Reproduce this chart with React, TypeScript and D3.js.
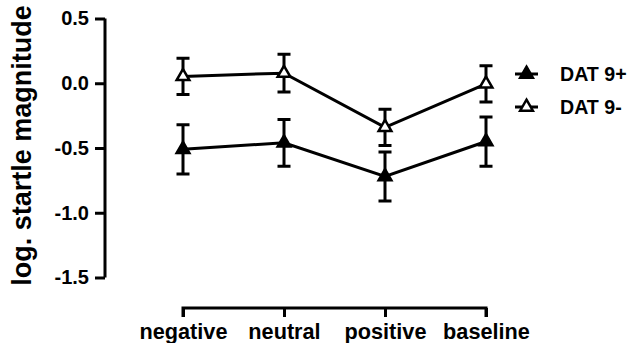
import * as React from 'react';
import * as d3 from 'd3';

const categories = ['negative', 'neutral', 'positive', 'baseline'];
const datPlus = [-0.51, -0.46, -0.72, -0.45];
const datPlusErr = [0.19, 0.18, 0.19, 0.19];
const datMinus = [0.053, 0.078, -0.34, -0.005];
const datMinusErr = [0.14, 0.145, 0.14, 0.14];
const yTicks = [0.5, 0.0, -0.5, -1.0, -1.5];
const seriesNames = ['DAT 9+', 'DAT 9-'];

const FONT = '"Liberation Sans", Arial, Helvetica, sans-serif';

export default function App() {
  const ref = React.useRef<SVGSVGElement>(null);

  React.useEffect(() => {
    const width = 631;
    const height = 343;
    const svg = d3.select(ref.current)
      .attr('width', width)
      .attr('height', height);
    svg.selectAll('*').remove();

    const x = d3.scalePoint<string>()
      .domain(categories)
      .range([183, 486]);
    const y = d3.scaleLinear()
      .domain([-1.5, 0.5])
      .range([277.5, 18.5]);

    const sw = 3;
    const fmt = (d: d3.NumberValue) => d3.format('.1f')(d).replace('\u2212', '-');

    // y axis
    const yAxis = svg.append('g')
      .attr('transform', 'translate(105,0)')
      .call(d3.axisLeft(y).tickValues(yTicks).tickFormat(fmt).tickSize(10).tickPadding(6));
    yAxis.select('.domain').attr('stroke-width', sw).attr('d', `M0,${y(0.5)}V${y(-1.5)}`);
    yAxis.selectAll('.tick line').attr('stroke-width', sw);
    yAxis.selectAll('.tick text')
      .attr('font-family', FONT).attr('font-weight', 'bold').attr('font-size', 20).attr('fill', '#000');

    // x axis
    const xAxis = svg.append('g')
      .attr('transform', 'translate(0,308)')
      .call(d3.axisBottom(x).tickSize(9).tickPadding(7));
    xAxis.select('.domain').attr('stroke-width', sw).attr('d', `M${x('negative')},9V0H${x('baseline')}V9`);
    xAxis.selectAll('.tick line').attr('stroke-width', sw);
    xAxis.selectAll('.tick text')
      .attr('font-family', FONT).attr('font-weight', 'bold').attr('font-size', 21.7).attr('fill', '#000');

    // y label
    svg.append('text')
      .attr('transform', `translate(31,${145.5}) rotate(-90)`)
      .attr('text-anchor', 'middle')
      .attr('font-family', FONT).attr('font-weight', 'bold').attr('font-size', 27)
      .text('log. startle magnitude');

    const series = [
      { name: seriesNames[0], values: datPlus, err: datPlusErr, fill: '#000' },
      { name: seriesNames[1], values: datMinus, err: datMinusErr, fill: '#fff' },
    ];

    const line = d3.line<number>()
      .x((_, i) => x(categories[i]) as number)
      .y(d => y(d));
    const tri = d3.symbol().type(d3.symbolTriangle).size(70);

    series.forEach(s => {
      const g = svg.append('g');
      g.append('path')
        .datum(s.values)
        .attr('fill', 'none')
        .attr('stroke', '#000')
        .attr('stroke-width', sw)
        .attr('d', line);
      const cap = 6.5;
      s.values.forEach((v, i) => {
        const cx = x(categories[i]) as number;
        const top = y(v + s.err[i]);
        const bot = y(v - s.err[i]);
        g.append('path')
          .attr('fill', 'none')
          .attr('stroke', '#000')
          .attr('stroke-width', sw)
          .attr('d', `M${cx},${top}V${bot}M${cx - cap},${top}H${cx + cap}M${cx - cap},${bot}H${cx + cap}`);
      });
      s.values.forEach((v, i) => {
        g.append('path')
          .attr('transform', `translate(${x(categories[i])},${y(v)})`)
          .attr('d', tri)
          .attr('fill', s.fill)
          .attr('stroke', '#000')
          .attr('stroke-width', 2.5);
      });
    });

    // legend
    series.forEach((s, i) => {
      const ly = 74 + i * 33;
      const lg = svg.append('g');
      lg.append('line')
        .attr('x1', 515).attr('x2', 538).attr('y1', ly).attr('y2', ly)
        .attr('stroke', '#000').attr('stroke-width', sw);
      lg.append('path')
        .attr('transform', `translate(526.5,${ly})`)
        .attr('d', tri)
        .attr('fill', s.fill)
        .attr('stroke', '#000')
        .attr('stroke-width', 2.5);
      lg.append('text')
        .attr('x', 560).attr('y', ly)
        .attr('dy', '0.35em')
        .attr('font-family', FONT).attr('font-weight', 'bold').attr('font-size', 19.6)
        .text(s.name);
    });
  }, []);

  return (
    <svg ref={ref} style={{ position: 'absolute', left: 0, top: 0, background: '#fff' }}></svg>
  );
}
